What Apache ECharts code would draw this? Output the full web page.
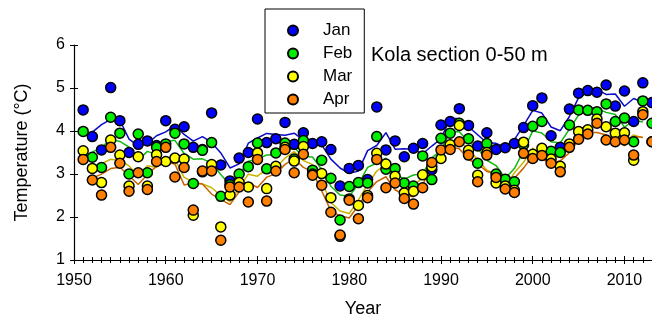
<!DOCTYPE html>
<html>
<head>
<meta charset="utf-8">
<script src="https://cdn.jsdelivr.net/npm/echarts@6/dist/echarts.min.js"></script>
<style>
  html, body { margin: 0; padding: 0; background: #fff; }
  #chart { width: 652px; height: 316px; }
</style>
</head>
<body>
<div id="chart"></div>
<script>
  // Kola section 0-50 m, Jan-Apr temperature
  const years = [1951, 1952, 1953, 1954, 1955, 1956, 1957, 1958, 1959, 1960,
                 1961, 1962, 1963, 1964, 1965, 1966, 1967, 1968, 1969, 1970,
                 1971, 1972, 1973, 1974, 1975, 1976, 1977, 1978, 1979, 1980,
                 1981, 1982, 1983, 1984, 1985, 1986, 1987, 1988, 1989, 1990,
                 1991, 1992, 1993, 1994, 1995, 1996, 1997, 1998, 1999, 2000,
                 2001, 2002, 2003, 2004, 2005, 2006, 2007, 2008, 2009, 2010,
                 2011, 2012, 2013]

  const jan = [4.49, 3.87, 3.56, 5.01, 4.24, 3.50, 3.69, 3.77, 3.66, 4.24,
               4.04, 4.10, 3.62, 3.57, 4.42, 3.21, 2.84, 3.37, 3.50, 4.28,
               3.73, 3.82, 4.20, 3.69, 3.96, 3.71, 3.75, 3.57, 2.72, 3.13,
               3.20, 2.87, 4.56, 3.56, 3.77, 3.40, 3.60, 3.71, 3.10, 4.14,
               4.22, 4.52, 4.13, 3.65, 3.96, 3.57, 3.61, 3.71, 4.08, 4.59,
               4.77, 3.89, 3.62, 4.51, 4.88, 4.94, 4.90, 5.07, 4.58, 4.93,
               4.22, 5.12, 4.66]

  const feb = [3.99, 3.39, 3.15, 4.32, 3.95, 3.00, 3.93, 3.03, 3.62, 3.70,
               3.95, 3.70, 2.78, 3.55, 3.73, 2.48, 2.75, 3.00, 3.17, 3.72,
               3.12, 3.49, 3.72, 3.35, 3.78, 3.09, 3.32, 2.90, 1.93, 2.71,
               2.80, 2.79, 3.87, 3.11, 3.13, 2.79, 2.72, 3.42, 2.87, 3.83,
               3.95, 4.18, 3.82, 3.25, 3.71, 3.00, 2.88, 2.82, 3.68, 4.11,
               4.22, 3.53, 3.50, 4.14, 4.49, 4.48, 4.45, 4.63, 4.22, 4.30,
               3.75, 4.70, 4.18]

  const mar = [3.54, 3.13, 2.80, 3.79, 3.44, 2.72, 3.40, 2.72, 3.45, 3.29,
               3.37, 3.35, 2.04, 3.05, 3.22, 1.77, 2.51, 2.80, 2.70, 3.49,
               2.66, 3.18, 3.62, 3.30, 3.64, 3.00, 3.01, 2.45, 1.55, 2.42,
               2.27, 2.50, 3.48, 3.23, 2.95, 2.56, 2.60, 2.98, 3.17, 3.36,
               3.68, 4.13, 3.55, 2.97, 3.50, 2.79, 2.72, 2.62, 3.74, 3.46,
               3.60, 3.35, 3.18, 3.70, 3.99, 4.03, 4.28, 4.10, 3.95, 3.96,
               3.32, 4.45, 3.75]

  const apr = [3.34, 2.86, 2.51, 3.62, 3.25, 2.60, 3.03, 2.64, 3.29, 3.62,
               2.93, 3.15, 2.16, 3.07, 3.07, 1.46, 2.70, 2.70, 2.35, 3.34,
               2.37, 3.07, 3.57, 3.03, 3.46, 2.97, 2.74, 2.11, 1.58, 2.39,
               1.96, 2.45, 3.34, 2.68, 2.79, 2.43, 2.30, 2.68, 3.27, 3.56,
               3.57, 3.75, 3.44, 2.82, 3.44, 2.92, 2.65, 2.57, 3.48, 3.36,
               3.43, 3.25, 3.05, 3.62, 3.81, 3.93, 4.18, 3.79, 3.75, 3.79,
               3.44, 4.38, 3.75]

  const months = ['Jan', 'Feb', 'Mar', 'Apr']
  const pointColors = ['#0000ff', '#00ee00', '#ffff00', '#ff7f00']
  const lineColors = ['#0a0ac8', '#10b810', '#c8b400', '#c86400']
  const monthData = [jan, feb, mar, apr]

  const font = 'Liberation Sans, Arial, sans-serif'

  // the lines in the figure are 3-year centred running means of the points
  function runMean3(vals) {
    const out = []
    for (let i = 1; i < vals.length - 1; i++) {
      out.push([years[i], (vals[i - 1] + vals[i] + vals[i + 1]) / 3])
    }
    return out
  }

  const series = []
  monthData.forEach((vals, k) => {
    series.push({
      name: months[k] + ' mean',
      type: 'line',
      data: runMean3(vals),
      showSymbol: false,
      silent: true,
      z: 1,
      lineStyle: {color: lineColors[k], width: 1.5}
    })
  })
  monthData.forEach((vals, k) => {
    series.push({
      name: months[k],
      type: 'scatter',
      data: years.map((y, i) => [y, vals[i]]),
      symbolSize: 10,
      z: 2 + k,
      itemStyle: {color: pointColors[k], borderColor: '#000', borderWidth: 1.5, opacity: 1}
    })
  })

  const chart = echarts.init(document.getElementById('chart'))
  chart.setOption({
    animation: false,
    textStyle: {fontFamily: font, color: '#000'},
    title: {
      text: 'Kola section 0-50 m',
      left: 371,
      top: 45,
      padding: 0,
      textStyle: {fontFamily: font, fontSize: 20, fontWeight: 'normal', color: '#000'}
    },
    legend: {
      data: months,
      orient: 'vertical',
      left: 265,
      top: 9,
      padding: [13, 12, 5, 22],
      itemWidth: 50,
      itemHeight: 10,
      itemGap: 6,
      backgroundColor: '#fff',
      borderColor: '#000',
      borderWidth: 1,
      borderRadius: 0,
      textStyle: {fontFamily: font, fontSize: 17, color: '#000'}
    },
    // v6 would otherwise shrink the grid to keep the clipped "Year" inside
    grid: {left: 74, right: 0, top: 45, bottom: 56, outerBoundsMode: 'none'},
    xAxis: [{
      type: 'value',
      min: 1950,
      max: 2013,
      interval: 10,
      name: 'Year',
      nameLocation: 'middle',
      nameGap: 40,
      nameTextStyle: {fontFamily: font, fontSize: 18, color: '#000'},
      splitLine: {show: false},
      axisLine: {onZero: false, lineStyle: {color: '#000', width: 1.2}},
      axisTick: {length: 4, lineStyle: {color: '#000'}},
      minorTick: {show: true, splitNumber: 10, length: 3, lineStyle: {color: '#000'}},
      axisLabel: {
        fontFamily: font, fontSize: 16, color: '#000', margin: 13, showMaxLabel: false,
        formatter: v => String(v)
      }
    }, {
      type: 'value',
      min: 1950,
      max: 2013,
      interval: 10,
      position: 'bottom',
      splitLine: {show: false},
      axisLine: {show: false},
      axisLabel: {show: false},
      axisTick: {inside: true, length: 4, lineStyle: {color: '#000'}},
      minorTick: {show: true, splitNumber: 10, length: 3, lineStyle: {color: '#000'}}
    }],
    yAxis: [{
      type: 'value',
      min: 1,
      max: 6,
      interval: 1,
      name: 'Temperature (°C)',
      nameLocation: 'middle',
      nameGap: 43,
      nameTextStyle: {fontFamily: font, fontSize: 18, color: '#000'},
      splitLine: {show: false},
      axisLine: {lineStyle: {color: '#000', width: 1.2}},
      axisTick: {length: 4, lineStyle: {color: '#000'}},
      axisLabel: {fontFamily: font, fontSize: 16, color: '#000', margin: 9}
    }, {
      type: 'value',
      min: 1,
      max: 6,
      interval: 1,
      position: 'left',
      splitLine: {show: false},
      axisLine: {show: false},
      axisLabel: {show: false},
      axisTick: {inside: true, length: 4, lineStyle: {color: '#000'}}
    }],
    series: series
  })
</script>
</body>
</html>
